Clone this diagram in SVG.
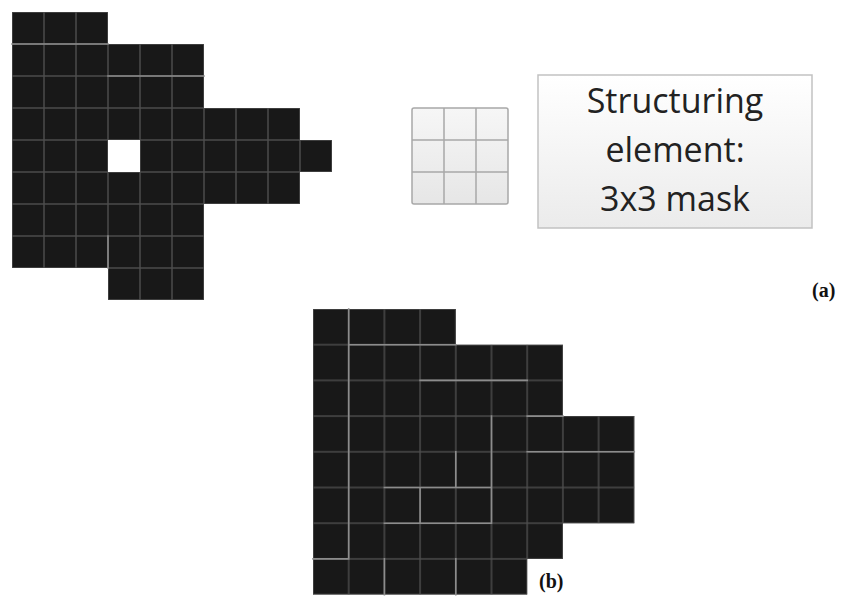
<svg xmlns="http://www.w3.org/2000/svg" width="856" height="600" viewBox="0 0 856 600">
  <defs>
    <!-- grid tiles: dark cell with a thin grey seam on every edge -->
    <pattern id="tileA" patternUnits="userSpaceOnUse" x="12" y="12" width="32" height="32">
      <rect x="0" y="0" width="32" height="32" fill="none" stroke="#4e4e4e" stroke-width="1.4"/>
    </pattern>
    <pattern id="tileB" patternUnits="userSpaceOnUse" x="313" y="309" width="35.7" height="35.7">
      <rect x="0" y="0" width="35.7" height="35.7" fill="none" stroke="#4e4e4e" stroke-width="1.4"/>
    </pattern>
    <linearGradient id="maskFill" x1="0" y1="0" x2="0" y2="1">
      <stop offset="0" stop-color="#f6f6f6"/>
      <stop offset="1" stop-color="#e6e6e6"/>
    </linearGradient>
    <linearGradient id="boxFill" x1="0" y1="0" x2="0" y2="1">
      <stop offset="0" stop-color="#ffffff"/>
      <stop offset="1" stop-color="#ebebeb"/>
    </linearGradient>
  </defs>
  <style>
    .cells { fill: #181818; fill-rule: evenodd; }
    .seam { fill: none; stroke: #8c8c8c; stroke-width: 1.6; stroke-linecap: square; }
    .label { font-family: "Liberation Serif", "Times New Roman", serif; font-weight: bold; font-size: 20px; fill: #111; }
    .caption { font-family: "Open Sans", "Noto Sans", sans-serif; font-size: 34px; fill: #222; text-anchor: middle; }
  </style>

  <rect width="856" height="600" fill="#ffffff"/>

  <!-- (a) binary image with a one-pixel hole -->
  <g id="image-a">
    <path class="cells" d="M12 12H108V44H204V108H300V140H332V172H300V204H204V300H108V268H12Z M108 140h32v32h-32Z"/>
    <path d="M12 12H108V44H204V108H300V140H332V172H300V204H204V300H108V268H12Z M108 140h32v32h-32Z" fill="url(#tileA)" fill-rule="evenodd"/>
    <path class="seam" d="M12 44H108 M108 76H204 M108 236V268" stroke="#747474"/>
  </g>

  <!-- 3x3 structuring element -->
  <g id="mask">
    <rect x="412" y="108" width="96" height="96" rx="2" fill="url(#maskFill)" stroke="#a8a8a8" stroke-width="1.5"/>
    <path d="M444 108V204 M476 108V204 M412 140H508 M412 172H508" stroke="#a8a8a8" stroke-width="1.5" fill="none"/>
  </g>

  <!-- caption box -->
  <g id="caption">
    <rect x="538" y="75" width="274" height="153" fill="url(#boxFill)" stroke="#c2c2c2" stroke-width="1.5"/>
    <text class="caption" x="675" y="112.5">Structuring</text>
    <text class="caption" x="675" y="162">element:</text>
    <text class="caption" x="675" y="211">3x3 mask</text>
  </g>

  <!-- (b) result image -->
  <g id="image-b">
    <path class="cells" d="M313 309H455.8V344.7H562.9V416.1H634.3V523.2H562.9V558.9H527.2V594.6H313Z"/>
    <path d="M313 309H455.8V344.7H562.9V416.1H634.3V523.2H562.9V558.9H527.2V594.6H313Z" fill="url(#tileB)"/>
    <path class="seam" d="M348.7 309V558.9H313 M348.7 344.7H455.8 M420.1 380.4H527.2 M527.2 416.1H562.9 M527.2 451.8H634.3 M491.5 416.1V523.2 M384.4 487.5H491.5 M455.8 451.8V487.5 M420.1 487.5V523.2 M384.4 523.2H491.5 M384.4 558.9V594.6 M455.8 558.9V594.6"/>
  </g>

  <g id="labels">
    <text class="label" x="812" y="297">(a)</text>
    <text class="label" x="539" y="588">(b)</text>
  </g>
</svg>
